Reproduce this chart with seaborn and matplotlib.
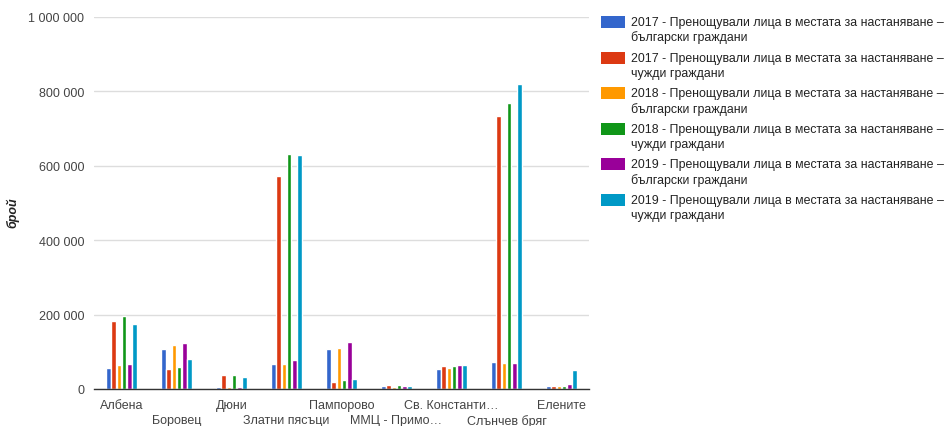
import matplotlib
matplotlib.use("Agg")
import matplotlib.pyplot as plt
import seaborn as sns
import pandas as pd
from matplotlib.ticker import FuncFormatter
from matplotlib.patches import Rectangle

categories = ["Албена", "Боровец", "Дюни", "Златни пясъци", "Пампорово",
              "ММЦ - Примо…", "Св. Константи…", "Слънчев бряг", "Елените"]

series = [
    "2017 - Пренощували лица в местата за настаняване –\nбългарски граждани",
    "2017 - Пренощували лица в местата за настаняване –\nчужди граждани",
    "2018 - Пренощували лица в местата за настаняване –\nбългарски граждани",
    "2018 - Пренощували лица в местата за настаняване –\nчужди граждани",
    "2019 - Пренощували лица в местата за настаняване –\nбългарски граждани",
    "2019 - Пренощували лица в местата за настаняване –\nчужди граждани",
]

bg2017 = [55700, 107500, 4500, 67200, 106600, 7200, 53800, 72600, 7200]
fr2017 = [183600, 53800, 37600, 572000, 18800, 11600, 62600, 735000, 9000]
bg2018 = [64500, 118300, 6300, 67200, 109300, 6200, 55600, 70700, 9000]
fr2018 = [197000, 58300, 37600, 633000, 23300, 11600, 62600, 770000, 9000]
bg2019 = [67200, 122800, 6000, 78800, 125400, 9000, 65300, 69900, 14300]
fr2019 = [174700, 80600, 32300, 630000, 26000, 9000, 65300, 821000, 51900]

values = [bg2017, fr2017, bg2018, fr2018, bg2019, fr2019]
colors = ["#3366cc", "#dc3912", "#ff9900", "#109618", "#990099", "#0099c6"]

y_ticks = [0, 200000, 400000, 600000, 800000, 1000000]

rows = []
for s, vals in zip(series, values):
    for c, v in zip(categories, vals):
        rows.append({"cat": c, "series": s, "value": v})
df = pd.DataFrame(rows)

sns.set_theme(style="white")
plt.rcParams["font.family"] = ["Liberation Sans", "DejaVu Sans"]

W, H = 946, 427
fig = plt.figure(figsize=(W / 100, H / 100), dpi=100)
ax = fig.add_axes([94 / W, 1 - 390 / H, (589 - 94) / W, (390 - 18) / H])

sns.barplot(data=df, x="cat", y="value", hue="series", order=categories,
            hue_order=series, palette=colors, saturation=1, width=0.57,
            gap=0.12, ax=ax, errorbar=None, legend=False)

ax.set_ylim(0, 1000000)
ax.set_xlim(-0.5, len(categories) - 0.5)
ax.set_yticks(y_ticks)
ax.yaxis.set_major_formatter(FuncFormatter(lambda v, p: f"{int(v):,}".replace(",", " ")))
ax.grid(axis="y", color="#dddddd", linewidth=1)
ax.set_axisbelow(True)
for s in ["top", "right", "left"]:
    ax.spines[s].set_visible(False)
ax.spines["bottom"].set_color("#333333")
ax.spines["bottom"].set_linewidth(1)
ax.tick_params(axis="both", length=0, labelsize=9, colors="#444444")
ax.tick_params(axis="y", pad=7)
ax.set_xlabel("")
ax.set_ylabel("")
fig.text(13 / W, 1 - 213 / H, "брой", rotation=90, ha="center", va="center",
         fontsize=9, fontstyle="italic", fontweight="bold", color="#222222")

for i, tick in enumerate(ax.xaxis.get_major_ticks()):
    tick.set_pad(7 if i % 2 == 0 else 18)

# legend (manual, to align squares with the first text line)
for i, (s, c) in enumerate(zip(series, colors)):
    top = 17 + 35.6 * i
    fig.patches.append(Rectangle((601 / W, 1 - (top + 12) / H), 24 / W, 12 / H,
                                 transform=fig.transFigure, facecolor=c,
                                 edgecolor="none", figure=fig))
    line1, line2 = s.split("\n")
    fig.text(631 / W, 1 - (top + 6) / H, line1, ha="left", va="center",
             fontsize=8.9, color="#222222")
    fig.text(631 / W, 1 - (top + 21) / H, line2, ha="left", va="center",
             fontsize=8.9, color="#222222")

fig.savefig("out.png", dpi=100)
